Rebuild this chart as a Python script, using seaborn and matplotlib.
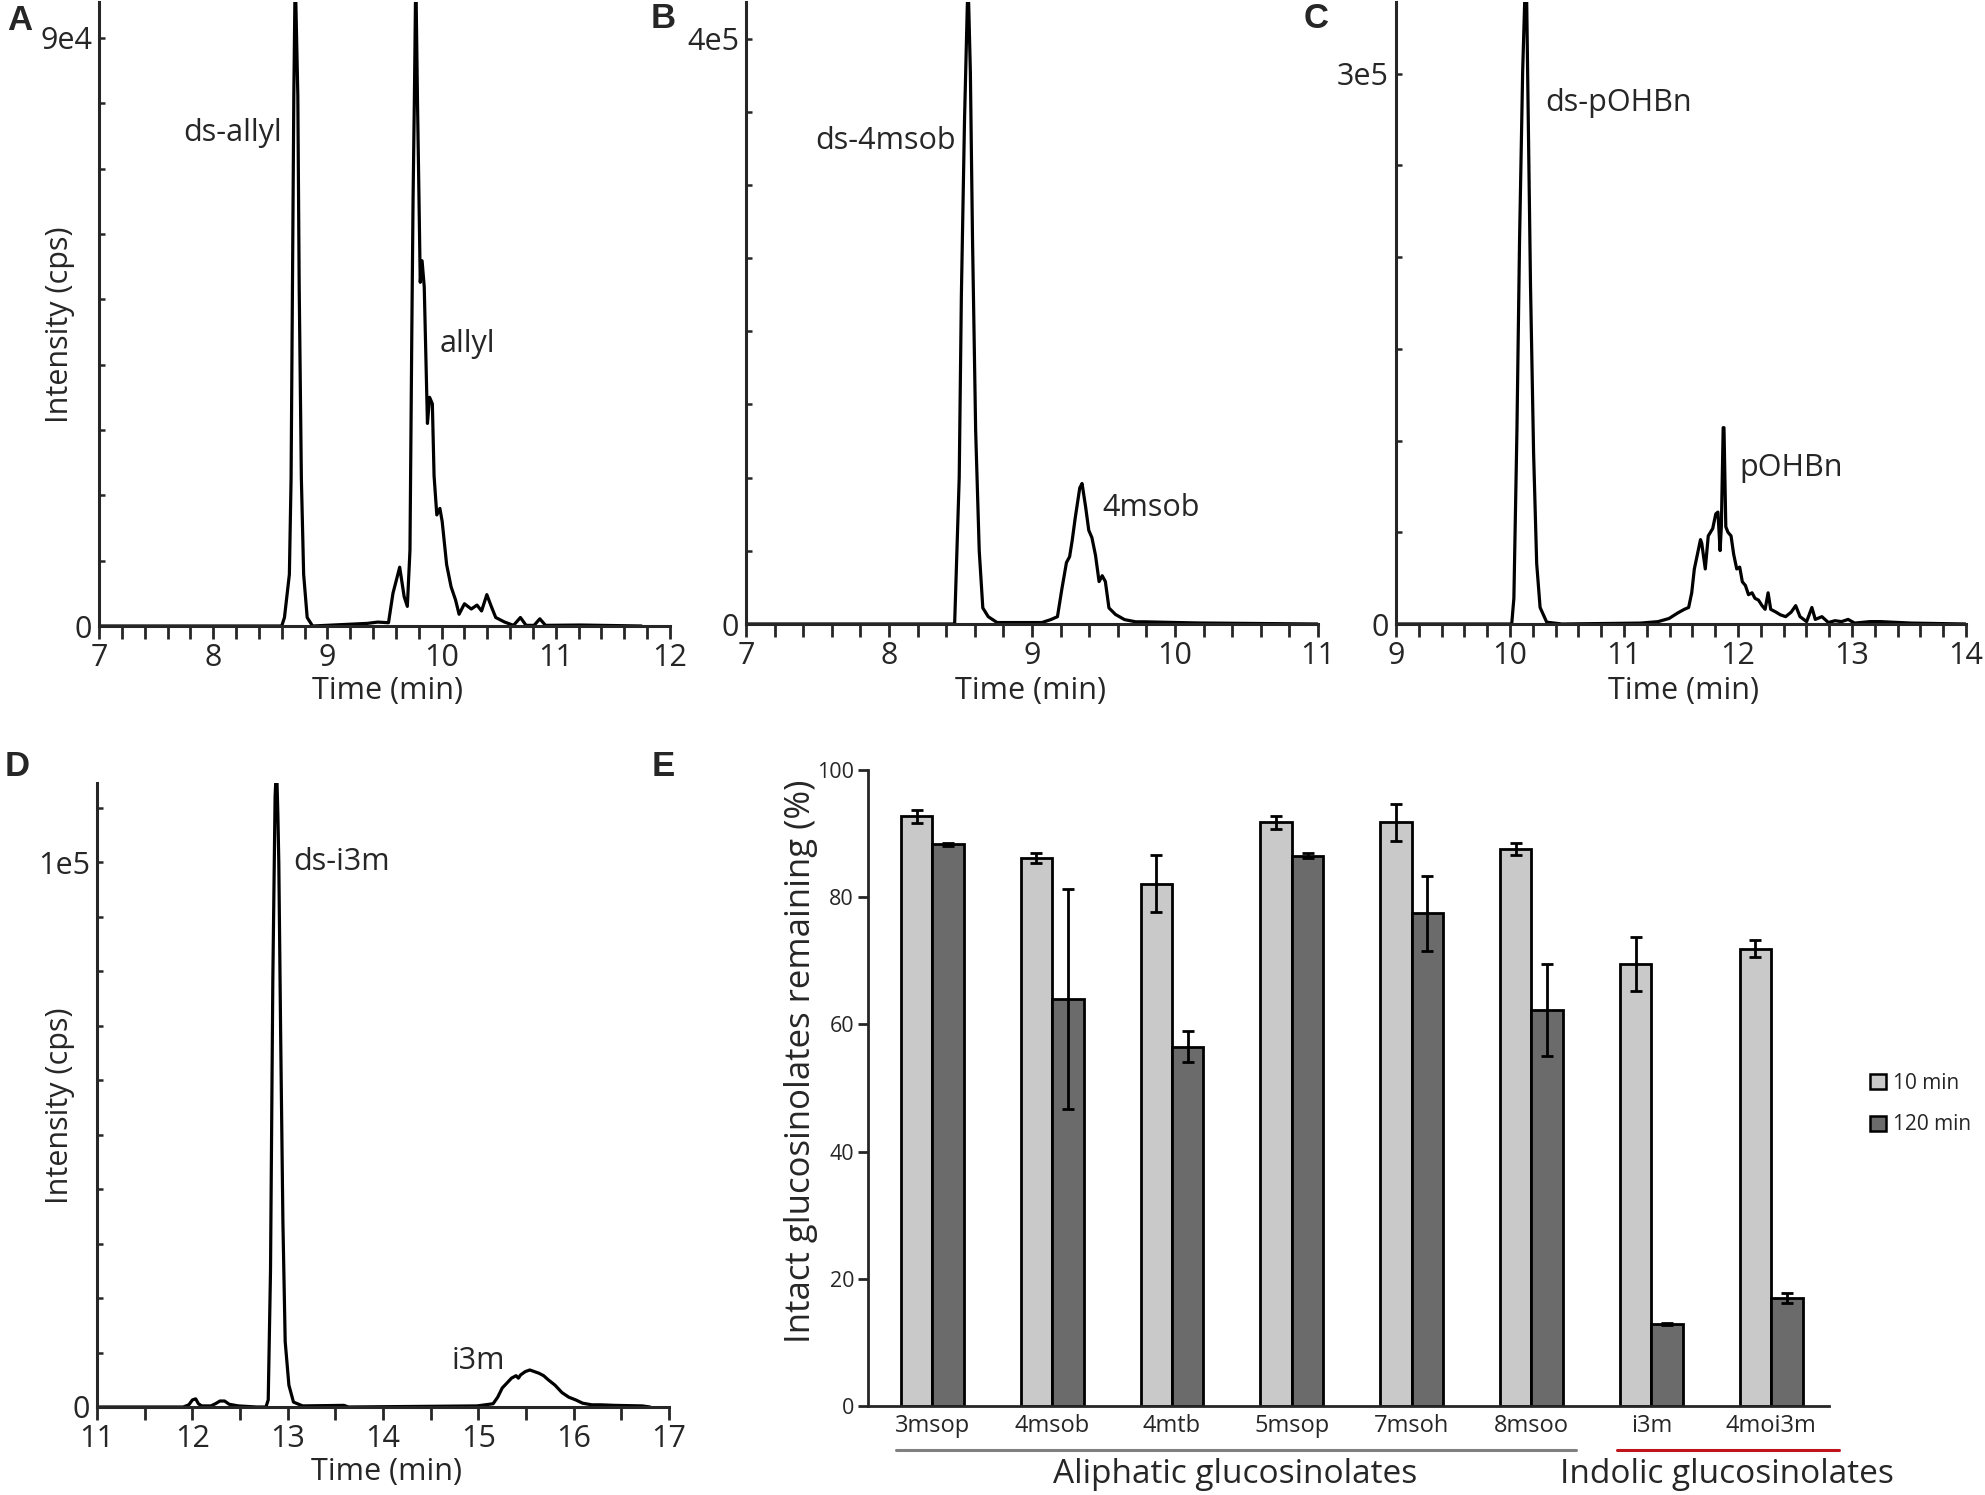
import pandas as pd
import matplotlib
matplotlib.use("Agg")
import matplotlib.pyplot as plt
import seaborn as sns
from matplotlib.ticker import MultipleLocator
from matplotlib.patches import Patch
from matplotlib.lines import Line2D

# chromatogram A (allyl), time in min, intensity in cps
a_time = [7.0, 8.60, 8.624, 8.667, 8.682, 8.694, 8.706, 8.718, 8.741, 8.753, 8.772, 8.792, 8.823, 8.87,
          9.35, 9.44, 9.535, 9.574, 9.633, 9.672, 9.70, 9.723, 9.739, 9.75, 9.762, 9.774, 9.789, 9.801,
          9.813, 9.829, 9.848, 9.876, 9.895, 9.919, 9.934, 9.958, 9.985, 10.005, 10.044, 10.083, 10.122,
          10.153, 10.20, 10.26, 10.31, 10.35, 10.396, 10.435, 10.474, 10.552, 10.63, 10.69, 10.74, 10.81,
          10.86, 10.91, 11.22, 11.75]
a_signal = [0, 0, 1300, 7900, 22600, 51900, 81200, 100000, 81200, 51900, 22600, 7900, 1300, 0,
            400, 600, 500, 5000, 9000, 4500, 3000, 11600, 44600, 65100, 81200, 100000, 80100, 66600,
            52600, 55900, 51900, 31000, 35000, 34000, 23000, 17000, 18000, 16000, 9400, 6000, 4000,
            1800, 3400, 2600, 3200, 2300, 4800, 3000, 1300, 600, 100, 1300, 100, 100,
            1100, 100, 150, 0]

# chromatogram B (4msob)
b_time = [7.0, 8.459, 8.491, 8.506, 8.528, 8.547, 8.553, 8.569, 8.584, 8.606, 8.631, 8.656, 8.694,
          8.756, 9.069, 9.131, 9.178, 9.209, 9.241, 9.263, 9.281, 9.303, 9.334, 9.35, 9.375, 9.397,
          9.419, 9.444, 9.469, 9.491, 9.513, 9.538, 9.584, 9.647, 9.725, 9.788, 10.163, 11.0]
b_signal = [0, 0, 100000, 224000, 344000, 420000, 440000, 377000, 263000, 132000, 50000, 11000, 5000,
            1000, 1000, 3000, 5000, 24000, 42000, 46000, 57000, 73000, 93000, 96000, 80000, 64000,
            59000, 47000, 29000, 33000, 29000, 11000, 6500, 3000, 1500, 1500, 700, 0]

# chromatogram C (pOHBn)
c_time = [9.0, 10.015, 10.034, 10.061, 10.084, 10.111, 10.134, 10.142, 10.157, 10.18, 10.207, 10.234,
          10.264, 10.322, 10.456, 11.146, 11.299, 11.395, 11.471, 11.529, 11.567, 11.594, 11.617,
          11.644, 11.671, 11.682, 11.713, 11.739, 11.778, 11.805, 11.824, 11.843, 11.854, 11.870,
          11.877, 11.893, 11.912, 11.939, 11.962, 11.989, 12.015, 12.038, 12.065, 12.092, 12.123,
          12.149, 12.18, 12.211, 12.238, 12.264, 12.287, 12.333, 12.372, 12.418, 12.467, 12.506,
          12.544, 12.602, 12.648, 12.678, 12.736, 12.793, 12.851, 12.908, 12.966, 13.023, 13.157,
          13.253, 13.521, 14.0]
c_signal = [0, 0, 14000, 106000, 210000, 301000, 350000, 360000, 290000, 184000, 93000, 33000,
            9000, 1000, 0, 500, 1300, 3000, 6000, 8000, 9000, 17000, 30000,
            38000, 46000, 44000, 30000, 48000, 52000, 60000, 61000, 40000, 53000, 107000,
            107000, 53000, 50000, 48000, 38000, 30000, 31000, 23000, 21000, 16000, 17000,
            14000, 13000, 10000, 8000, 17000, 8000, 6500, 5000, 4000, 6500, 10000,
            4000, 1300, 9000, 2500, 4000, 800, 1800, 1300, 2500, 500, 1300,
            1300, 500, 0]

# chromatogram D (i3m)
d_time = [11.0, 11.905, 11.963, 12.001, 12.035, 12.064, 12.098, 12.194, 12.242, 12.29, 12.338, 12.387,
          12.483, 12.675, 12.772, 12.796, 12.82, 12.844, 12.868, 12.883, 12.897, 12.907, 12.926, 12.95,
          12.974, 13.013, 13.061, 13.157, 13.59, 13.638, 14.987, 15.155, 15.203, 15.251, 15.3, 15.348,
          15.396, 15.42, 15.444, 15.492, 15.54, 15.588, 15.636, 15.685, 15.733, 15.805, 15.877, 15.949,
          16.022, 16.094, 16.19, 16.287, 16.431, 16.72, 16.8]
d_signal = [0, 0, 400, 1300, 1500, 600, 200, 200, 600, 1100, 1100, 500,
            200, 0, 0, 1300, 25000, 78000, 112000, 118000, 109000, 100000, 69000, 34000,
            12000, 4000, 900, 200, 300, 0, 200, 600, 1800, 3500, 4400, 5300,
            5750, 5300, 5900, 6500, 6800, 6500, 6200, 5750, 5000, 4000, 2650, 1800,
            1300, 700, 400, 400, 300, 200, 0]

# panel E
compounds = ['3msop', '4msob', '4mtb', '5msop', '7msoh', '8msoo', 'i3m', '4moi3m']
times = ['10 min', '120 min']
pct_10 = [92.7, 86.2, 82.1, 91.8, 91.8, 87.6, 69.5, 71.9]
err_10 = [1.0, 0.75, 4.5, 1.0, 2.9, 1.0, 4.2, 1.3]
pct_120 = [88.3, 64.0, 56.5, 86.5, 77.5, 62.3, 12.9, 17.0]
err_120 = [0.2, 17.3, 2.4, 0.4, 5.9, 7.2, 0.2, 0.8]

sns.set_style("ticks")
plt.rcParams['font.family'] = ['Open Sans', 'DejaVu Sans']

W, H = 1985, 1495
fig = plt.figure(figsize=(W / 100, H / 100), dpi=100)


def box(left, right, top, bottom):
    return [left / W, 1 - bottom / H, (right - left) / W, (bottom - top) / H]


chrom = [
    # data, axes box, xlim, ylim, major y, minor y, x minor, peak labels
    (a_time, a_signal, box(99, 670, 2, 626), (7, 12), 95500, [0, 90000], ['0', '9e4'], 10000, 0.2,
     [(8.60, 75400, 'ds-allyl', 'right'), (9.985, 43100, 'allyl', 'left')]),
    (b_time, b_signal, box(746, 1318, 2, 624), (7, 11), 425000, [0, 400000], ['0', '4e5'], 50000, 0.2,
     [(8.47, 330000, 'ds-4msob', 'right'), (9.49, 79000, '4msob', 'left')]),
    (c_time, c_signal, box(1396, 1966, 2, 624), (9, 14), 339000, [0, 300000], ['0', '3e5'], 50000, 0.2,
     [(10.31, 284000, 'ds-pOHBn', 'left'), (12.01, 85000, 'pOHBn', 'left')]),
    (d_time, d_signal, box(97, 669, 783, 1407), (11, 17), 114600, [0, 100000], ['0', '1e5'], 10000, 0.5,
     [(13.06, 100000, 'ds-i3m', 'left'), (14.72, 8400, 'i3m', 'left')]),
]

for t, s, pos, xl, ytop, yt, ytl, ymin, xmin, labels in chrom:
    ax = fig.add_axes(pos)
    sns.lineplot(x=t, y=s, ax=ax, color='black', linewidth=2.3, sort=False, estimator=None)
    ax.set_xlim(*xl)
    ax.set_ylim(0, ytop)
    ax.set_yticks(yt)
    ax.set_yticklabels(ytl)
    ax.yaxis.set_minor_locator(MultipleLocator(ymin))
    ax.xaxis.set_major_locator(MultipleLocator(1))
    ax.xaxis.set_minor_locator(MultipleLocator(xmin))
    ax.tick_params(axis='x', which='both', direction='out', length=9, width=2, labelsize=22, pad=3)
    ax.tick_params(axis='y', which='both', direction='in', length=4, width=1.8, labelsize=22, pad=5)
    for sp in ['top', 'right']:
        ax.spines[sp].set_visible(False)
    for sp in ['left', 'bottom']:
        ax.spines[sp].set_linewidth(2.2)
    ax.set_xlabel('')
    ax.set_ylabel('')
    for lx, ly, txt, ha in labels:
        ax.text(lx, ly, txt, ha=ha, va='center', fontsize=22)

# axis titles for chromatograms
fig.text(60 / W, 1 - 325 / H, 'Intensity (cps)', rotation=90, ha='center', va='center', fontsize=22)
fig.text(60 / W, 1 - 1106 / H, 'Intensity (cps)', rotation=90, ha='center', va='center', fontsize=22)
for cx, cy in [(388, 691), (1030, 691), (1684, 691), (386, 1472)]:
    fig.text(cx / W, 1 - cy / H, 'Time (min)', ha='center', va='center', fontsize=22)

# panel letters
for lx, ly, letter in [(20, 20, 'A'), (663, 19, 'B'), (1316, 19, 'C'), (17, 767, 'D'), (663, 767, 'E')]:
    fig.text(lx / W, 1 - ly / H, letter, ha='center', va='center', fontsize=25,
             fontweight='bold', family='Liberation Sans')

# panel E bars
df = pd.DataFrame({
    'compound': compounds * 2,
    'time': [times[0]] * len(compounds) + [times[1]] * len(compounds),
    'pct': pct_10 + pct_120,
})
light, dark = '#c9c9c9', '#6b6b6b'
axe = fig.add_axes(box(868, 1829, 770, 1406))
sns.barplot(data=df, x='compound', y='pct', hue='time', order=compounds, hue_order=times,
            palette=[light, dark], width=0.525, edgecolor='black', linewidth=2,
            errorbar=None, legend=False, ax=axe)
for cont, err in zip(axe.containers, [err_10, err_120]):
    xs = [b.get_x() + b.get_width() / 2 for b in cont]
    ys = [b.get_height() for b in cont]
    axe.errorbar(xs, ys, yerr=err, fmt='none', ecolor='black', elinewidth=2, capsize=4.5, capthick=2)

axe.set_xlim(-0.537, 7.483)
axe.set_ylim(0, 100)
axe.set_yticks(range(0, 101, 20))
axe.tick_params(axis='y', direction='out', length=7, width=2, labelsize=15.5, pad=3)
axe.tick_params(axis='x', length=0, labelsize=17, pad=6)
for sp in ['top', 'right']:
    axe.spines[sp].set_visible(False)
for sp in ['left', 'bottom']:
    axe.spines[sp].set_linewidth(2)
axe.set_xlabel('')
axe.set_ylabel('')
fig.text(801 / W, 1 - 1061 / H, 'Intact glucosinolates remaining (%)', rotation=90,
         ha='center', va='center', fontsize=25)

# group brackets under the categories
tr = axe.get_xaxis_transform()
axe.add_line(Line2D([-0.3, 5.37], [-0.069, -0.069], transform=tr, color='#808080', lw=2.2, clip_on=False))
axe.add_line(Line2D([5.71, 7.57], [-0.069, -0.069], transform=tr, color='#c0141c', lw=2.2, clip_on=False))
axe.text(2.525, -0.107, 'Aliphatic glucosinolates', transform=tr, ha='center', va='center', fontsize=24)
axe.text(6.63, -0.107, 'Indolic glucosinolates', transform=tr, ha='center', va='center', fontsize=24)

handles = [Patch(facecolor=light, edgecolor='black', linewidth=1.8),
           Patch(facecolor=dark, edgecolor='black', linewidth=1.8)]
axe.legend(handles, times, loc='center left', bbox_to_anchor=(1870 / W, 1 - 1104 / H),
           bbox_transform=fig.transFigure, frameon=False, fontsize=15, handlelength=0.75,
           handleheight=0.75, handletextpad=0.35, labelspacing=1.0, borderpad=0, borderaxespad=0)

fig.savefig('out.png', dpi=100)
